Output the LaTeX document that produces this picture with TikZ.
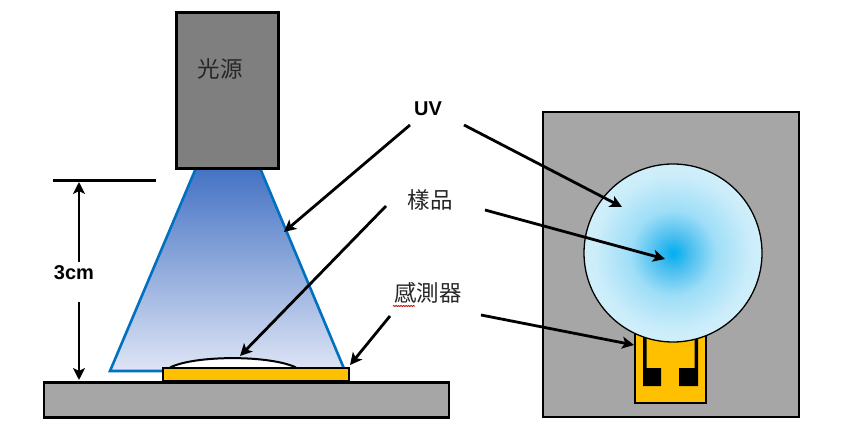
\documentclass[tikz,border=0pt]{standalone}
\usepackage{fontspec}
\setsansfont{Liberation Sans}
\newfontfamily\cjk{Noto Sans CJK TC}
\usetikzlibrary{arrows.meta,decorations.pathmorphing}
\definecolor{basegray}{RGB}{166,166,166}
\definecolor{lampgray}{RGB}{127,127,127}
\definecolor{gold}{RGB}{255,192,0}
\definecolor{beam}{RGB}{0,112,192}
\definecolor{beamtop}{RGB}{68,114,196}
\definecolor{beambot}{RGB}{222,229,245}
\pgfdeclareradialshading{sampleglow}{\pgfpointorigin}{
  rgb(0bp)=(0,0.68,0.94);
  rgb(5bp)=(0.30,0.75,0.94);
  rgb(12bp)=(0.62,0.87,0.97);
  rgb(22bp)=(0.80,0.93,0.98);
  rgb(50bp)=(0.89,0.96,0.99)}
\tikzset{
  solid box/.style={draw=black,line width=2.8pt,inner sep=0pt,outer sep=0pt,anchor=north west},
  pointer/.style={draw=black,line width=2.8pt,-{Stealth[length=12pt,width=12pt,inset=3pt]}},
  cjk label/.style={font=\cjk\fontsize{22.5}{24}\selectfont,text=black!85,inner sep=0pt},
  bold label/.style={font=\sffamily\bfseries\fontsize{20}{22}\selectfont,inner sep=0pt},
}
\begin{document}
\begin{tikzpicture}[x=1pt,y=-1pt]
\useasboundingbox (0,0) rectangle (850,427);
% base and beam
\node[solid box,fill=basegray,minimum width=405pt,minimum height=35pt] (base) at (44,382.5) {};
\path[top color=beamtop,bottom color=beambot] (196,168) -- (260,168) -- (345,371) -- (110,371) -- cycle;
\draw[beam,line width=2.6pt,line join=miter] (196,168) -- (110,371) -- (345,371) -- (260,168);
\node[solid box,fill=lampgray,minimum width=102pt,minimum height=156pt] (lamp) at (176.5,12.5) {};
\node[cjk label] (lamptext) at (220,69) {光源};
% sample and sensor, side view
\draw[fill=white,line width=2pt] (170,367.5) .. controls (195,355) and (270,355) .. (296,367.5);
\node[solid box,fill=gold,minimum width=186pt,minimum height=13pt] (sensorside) at (163,368) {};
% 3 cm dimension
\coordinate (dimL) at (53,180.5);
\coordinate (dimR) at (156,180.5);
\draw[line width=2.6pt] (dimL) -- (dimR);
\node[bold label] (dimtext) at (74,273) {3cm};
\coordinate (dimTop) at (79,182);
\coordinate (dimBot) at (79,380);
\coordinate (dimA) at (79,262);
\coordinate (dimB) at (79,302);
\draw[pointer] (dimA) -- (dimTop);
\draw[pointer] (dimB) -- (dimBot);
% top view
\node[solid box,fill=basegray,minimum width=256pt,minimum height=305pt] (plate) at (543,112) {};
\node[solid box,fill=gold,minimum width=71pt,minimum height=71pt,line width=2.4pt] (sensortop) at (635,332) {};
\fill[black] (643,330) rectangle (646.5,386) (643,368) rectangle (661,386);
\fill[black] (694.5,330) rectangle (698,386) (679,368) rectangle (698,386);
\node[circle,draw=black,line width=1.3pt,minimum size=178pt,inner sep=0pt,outer sep=0pt,shading=sampleglow] (disc) at (673,253) {};
% labels
\node[bold label] (uv) at (428,109) {UV};
\node[cjk label] (sample) at (430,200) {樣品};
\node[cjk label] (sensor) at (428,293) {感測器};
\draw[red!75!black,line width=0.8pt,decorate,decoration={zigzag,segment length=2.5pt,amplitude=0.5pt}] (393,306) -- (415,306);
% pointers
\coordinate (uvA) at (284,232);
\coordinate (uvB) at (622,207);
\coordinate (samA) at (240,356);
\coordinate (samB) at (665,259);
\coordinate (senA) at (350,365);
\coordinate (senB) at (634,345);
\coordinate (uvAs) at (410,125);
\coordinate (uvBs) at (464,125);
\coordinate (samAs) at (386,206);
\coordinate (samBs) at (485,210);
\coordinate (senAs) at (390,316);
\coordinate (senBs) at (481,315);
\draw[pointer] (uvAs) -- (uvA);
\draw[pointer] (uvBs) -- (uvB);
\draw[pointer] (samAs) -- (samA);
\draw[pointer] (samBs) -- (samB);
\draw[pointer] (senAs) -- (senA);
\draw[pointer] (senBs) -- (senB);
\end{tikzpicture}
\end{document}
